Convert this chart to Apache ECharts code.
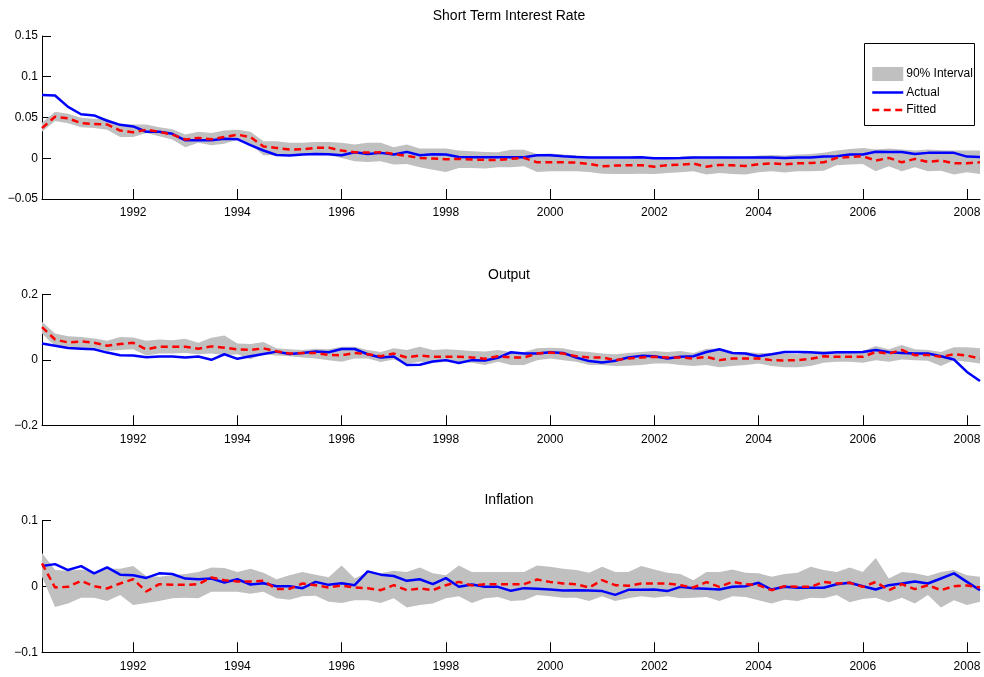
<!DOCTYPE html>
<html>
<head>
<meta charset="utf-8">
<title>Actual vs Fitted</title>
<script src="https://cdn.jsdelivr.net/npm/echarts@6/dist/echarts.min.js"></script>
<style>
  html, body { margin: 0; padding: 0; background: #fff; }
  #chart { width: 984px; height: 677px; }
</style>
</head>
<body>
<div id="chart"></div>
<script>
// Quarterly observations, 1990Q2 .. 2008Q2
const firstQuarter = 1990.25;
const nQuarters = 73;
const quarters = Array.from({ length: nQuarters }, (_, i) => (firstQuarter + i * 0.25).toFixed(2));
const yearTicks = [1992, 1994, 1996, 1998, 2000, 2002, 2004, 2006, 2008];

// Short term interest rate
const rateActual = [
  0.0777, 0.077, 0.063, 0.054, 0.0526, 0.046, 0.041, 0.039, 0.0325, 0.0325, 0.030, 0.022, 0.022, 0.022, 0.024, 0.0234, 0.016, 0.0095, 0.004, 0.0033, 0.0045, 0.0053, 0.005,
  0.0037, 0.0074, 0.0053, 0.0066, 0.0045, 0.0078, 0.0037, 0.005, 0.0045, 0.0016, 0.0012, 0.0012, 0.0012, 0.0012, 0.0012, 0.0037, 0.0037, 0.0025, 0.0016, 0.0008, 0.0008, 0.0008, 0.0008, 0.0012,
  0, 0, 0.0004, 0.001, 0.0008, 0.0008, 0.0008, 0.0008, 0.0008, 0.001, 0.0004, 0.0008, 0.001, 0.002, 0.0025, 0.0045, 0.0045, 0.008, 0.0078, 0.0078, 0.0053, 0.0066, 0.0066, 0.0066, 0.002, 0.0016
];
const rateFitted = [
  0.037, 0.051, 0.049, 0.043, 0.042, 0.0415, 0.034, 0.032, 0.035, 0.0325, 0.029, 0.023, 0.025, 0.0234, 0.026, 0.029, 0.026, 0.0144, 0.0127, 0.0107, 0.011, 0.0127, 0.013,
  0.0094, 0.0074, 0.007, 0.0074, 0.0053, 0.0029, 0.0004, -0.0004, -0.0012, -0.0008, -0.0016, -0.002, -0.002, -0.0008, 0.0004, -0.005, -0.005, -0.005, -0.0053, -0.007, -0.0099, -0.009, -0.0086, -0.0086,
  -0.0103, -0.0086, -0.0078, -0.0066, -0.0103, -0.0082, -0.0086, -0.0094, -0.0074, -0.0062, -0.0074, -0.0062, -0.0058, -0.005, 0.0004, 0.0016, 0.0025, -0.0029, 0.0004, -0.005, -0.0008, -0.0045, -0.0029, -0.0062, -0.0062, -0.005
];
const rateUpper = [
  0.0435, 0.057, 0.0546, 0.0497, 0.0485, 0.0485, 0.042, 0.0415, 0.0415, 0.038, 0.0357, 0.029, 0.0325, 0.031, 0.034, 0.035, 0.0325, 0.021, 0.021, 0.019, 0.019, 0.020, 0.020,
  0.019, 0.0168, 0.019, 0.019, 0.0136, 0.0168, 0.012, 0.012, 0.012, 0.0094, 0.0086, 0.0078, 0.0074, 0.0103, 0.0103, 0.0053, 0.0057, 0.0045, 0.0037, 0.0025, 0.0004, 0.0004, 0.0012, 0.0004,
  0.0004, 0.0012, 0.0016, 0.0025, 0.0012, 0.0025, 0.0016, 0.0016, 0.0033, 0.0041, 0.0033, 0.0045, 0.0053, 0.0066, 0.0094, 0.0115, 0.0127, 0.0107, 0.0119, 0.0107, 0.0094, 0.0107, 0.0098, 0.0094, 0.0094, 0.0094
];
const rateLower = [
  0.0325, 0.0456, 0.043, 0.038, 0.037, 0.035, 0.026, 0.026, 0.031, 0.027, 0.023, 0.0136, 0.019, 0.016, 0.0177, 0.023, 0.017, 0.0037, 0.0037, 0.0033, 0.0037, 0.0045, 0.0037,
  0.0004, -0.0037, -0.0045, -0.0037, -0.0078, -0.007, -0.011, -0.014, -0.017, -0.012, -0.012, -0.0127, -0.011, -0.011, -0.0099, -0.017, -0.016, -0.016, -0.016, -0.0168, -0.019, -0.0193, -0.0193, -0.019,
  -0.0193, -0.018, -0.0172, -0.016, -0.020, -0.018, -0.0193, -0.020, -0.0172, -0.016, -0.0176, -0.016, -0.016, -0.0152, -0.0086, -0.0078, -0.007, -0.016, -0.0099, -0.016, -0.011, -0.016, -0.0152, -0.020, -0.0172, -0.0193
];

// Output
const outputActual = [
  0.050, 0.043, 0.036, 0.034, 0.032, 0.022, 0.014, 0.013, 0.008, 0.010, 0.010, 0.007, 0.010, 0.0, 0.017, 0.003, 0.011, 0.018, 0.025, 0.018, 0.021, 0.025, 0.023,
  0.033, 0.033, 0.017, 0.007, 0.010, -0.016, -0.015, -0.005, -0.001, -0.010, -0.001, -0.002, 0.006, 0.023, 0.019, 0.019, 0.023, 0.021, 0.007, -0.004, -0.008, -0.003, 0.007, 0.012,
  0.011, 0.004, 0.009, 0.011, 0.024, 0.032, 0.021, 0.019, 0.011, 0.017, 0.024, 0.024, 0.023, 0.020, 0.023, 0.023, 0.024, 0.030, 0.023, 0.021, 0.019, 0.019, 0.011, 0.001, -0.037, -0.065
];
const outputFitted = [
  0.10, 0.062, 0.053, 0.056, 0.052, 0.043, 0.048, 0.052, 0.032, 0.040, 0.040, 0.040, 0.034, 0.041, 0.037, 0.032, 0.030, 0.035, 0.026, 0.019, 0.021, 0.021, 0.015,
  0.014, 0.021, 0.017, 0.011, 0.019, 0.007, 0.013, 0.009, 0.009, 0.009, 0.007, 0.003, 0.011, 0.007, 0.007, 0.019, 0.022, 0.019, 0.011, 0.007, 0.007, -0.001, 0.004, 0.007,
  0.009, 0.007, 0.007, 0.004, 0.009, -0.001, 0.004, 0.004, 0.004, -0.001, -0.002, -0.001, 0.003, 0.011, 0.009, 0.009, 0.009, 0.024, 0.019, 0.030, 0.014, 0.015, 0.009, 0.017, 0.013, 0.004
];
const outputUpper = [
  0.116, 0.080, 0.072, 0.070, 0.065, 0.058, 0.070, 0.068, 0.058, 0.062, 0.060, 0.064, 0.052, 0.067, 0.074, 0.050, 0.048, 0.054, 0.035, 0.032, 0.030, 0.034, 0.032,
  0.040, 0.040, 0.030, 0.024, 0.035, 0.030, 0.040, 0.030, 0.032, 0.030, 0.027, 0.025, 0.030, 0.024, 0.024, 0.035, 0.037, 0.035, 0.027, 0.024, 0.019, 0.017, 0.021, 0.024,
  0.027, 0.024, 0.027, 0.021, 0.034, 0.034, 0.024, 0.024, 0.021, 0.021, 0.019, 0.017, 0.025, 0.027, 0.025, 0.024, 0.027, 0.042, 0.032, 0.045, 0.032, 0.030, 0.024, 0.038, 0.038, 0.035
];
const outputLower = [
  0.080, 0.042, 0.037, 0.035, 0.037, 0.027, 0.030, 0.032, 0.013, 0.019, 0.019, 0.021, 0.017, 0.019, 0.014, 0.017, 0.002, 0.017, 0.013, 0.011, 0.007, 0.004, -0.001,
  -0.006, 0.004, 0.004, -0.007, 0.001, -0.013, -0.006, -0.009, -0.007, -0.009, -0.009, -0.016, -0.006, -0.016, -0.016, -0.001, 0.004, -0.001, -0.006, -0.016, -0.016, -0.019, -0.018, -0.016,
  -0.011, -0.011, -0.016, -0.019, -0.016, -0.023, -0.019, -0.016, -0.011, -0.019, -0.023, -0.023, -0.019, -0.009, -0.006, -0.006, -0.009, -0.001, -0.006, 0.001, -0.001, -0.003, -0.019, -0.001, -0.006, -0.011
];

// Inflation
const inflActual = [
  0.031, 0.034, 0.025, 0.031, 0.020, 0.029, 0.018, 0.017, 0.013, 0.020, 0.019, 0.012, 0.011, 0.012, 0.006, 0.011, 0.003, 0.005, 0.0005, 0.0005, -0.0025, 0.007, 0.0025,
  0.005, 0.002, 0.023, 0.018, 0.016, 0.0086, 0.011, 0.0035, 0.0127, -0.0005, 0.003, -0.0005, -0.0005, -0.0066, -0.0025, -0.0035, -0.0046, -0.006, -0.0056, -0.006, -0.007, -0.0127, -0.005, -0.005,
  -0.0046, -0.007, -0.0005, -0.0025, -0.0035, -0.0046, -0.0005, 0.0005, 0.0056, -0.0046, -0.0005, -0.002, -0.002, -0.002, 0.0035, 0.0056, 0.0005, -0.0046, 0.002, 0.0046, 0.0076, 0.0046, 0.0122, 0.020, 0.007, -0.0056
];
const inflFitted = [
  0.035, -0.0015, -0.0005, 0.0086, 0.0005, -0.003, 0.0046, 0.011, -0.0076, 0.0035, 0.0025, 0.0025, 0.0035, 0.0137, 0.0096, 0.0076, 0.0076, 0.0086, -0.004, -0.0035, 0.0046, 0.002, -0.0015,
  0.0015, -0.0015, -0.0025, -0.0056, 0.002, -0.0056, -0.003, -0.0056, 0.002, 0.007, 0.0015, 0.0035, 0.0035, 0.0035, 0.0035, 0.0106, 0.007, 0.0046, 0.0035, -0.0015, 0.0096, 0.002, 0.001, 0.0046,
  0.0046, 0.0046, 0.002, -0.0015, 0.0066, -0.0005, 0.007, 0.0035, 0.002, -0.0056, 0.0005, -0.0005, -0.0005, 0.007, 0.0046, 0.0056, -0.0005, 0.007, -0.0056, 0.0035, -0.004, 0.002, -0.0056, 0.0005, 0.0015, -0.0015
];
const inflUpper = [
  0.051, 0.025, 0.024, 0.026, 0.022, 0.027, 0.027, 0.031, 0.016, 0.015, 0.017, 0.019, 0.022, 0.029, 0.028, 0.022, 0.027, 0.021, 0.011, 0.017, 0.022, 0.018, 0.014,
  0.032, 0.012, 0.022, 0.020, 0.024, 0.022, 0.029, 0.020, 0.017, 0.032, 0.022, 0.022, 0.022, 0.022, 0.022, 0.032, 0.030, 0.027, 0.025, 0.021, 0.030, 0.022, 0.022, 0.031,
  0.026, 0.021, 0.019, 0.0096, 0.022, 0.022, 0.026, 0.021, 0.020, 0.015, 0.019, 0.021, 0.030, 0.025, 0.022, 0.029, 0.022, 0.0435, 0.012, 0.022, 0.020, 0.016, 0.022, 0.025, 0.017, 0.015
];
const inflLower = [
  0.015, -0.031, -0.026, -0.017, -0.017, -0.022, -0.013, -0.028, -0.025, -0.022, -0.018, -0.017, -0.018, -0.008, -0.008, -0.008, -0.011, -0.008, -0.018, -0.020, -0.015, -0.014, -0.023,
  -0.025, -0.021, -0.021, -0.025, -0.018, -0.032, -0.028, -0.026, -0.018, -0.015, -0.025, -0.018, -0.016, -0.022, -0.021, -0.013, -0.015, -0.017, -0.017, -0.022, -0.015, -0.022, -0.018, -0.015,
  -0.017, -0.015, -0.018, -0.017, -0.016, -0.022, -0.015, -0.016, -0.021, -0.026, -0.020, -0.022, -0.017, -0.018, -0.013, -0.024, -0.019, -0.017, -0.024, -0.017, -0.026, -0.013, -0.032, -0.021, -0.028, -0.023
];

const panels = [
  { title: 'Short Term Interest Rate', actual: rateActual, fitted: rateFitted, upper: rateUpper, lower: rateLower,
    yMin: -0.05, yMax: 0.15, yStep: 0.05, grid: { top: 36, height: 163 }, titleTop: 9 },
  { title: 'Output', actual: outputActual, fitted: outputFitted, upper: outputUpper, lower: outputLower,
    yMin: -0.2, yMax: 0.2, yStep: 0.2, grid: { top: 294.3, height: 131 }, titleTop: 268 },
  { title: 'Inflation', actual: inflActual, fitted: inflFitted, upper: inflUpper, lower: inflLower,
    yMin: -0.1, yMax: 0.1, yStep: 0.1, grid: { top: 520.7, height: 131.6 }, titleTop: 493 }
];

const FONT = '"Liberation Sans", Arial, Helvetica, sans-serif';
const BAND = '#c0c0c0';

// a quarter carries a year label when it is the first quarter of a listed year
const isYearTick = (idx, value) => {
  const v = parseFloat(value);
  return Number.isInteger(v) && yearTicks.indexOf(v) >= 0;
};
const fmtY = (v) => {
  const r = Math.round(v * 1000) / 1000;
  return r === 0 ? '0' : String(r).replace('-', '\u2212');
};

const grids = [], xAxes = [], yAxes = [], titles = [], series = [];
panels.forEach((p, k) => {
  grids.push({ left: 42, width: 938, top: p.grid.top, height: p.grid.height, containLabel: false });
  titles.push({ text: p.title, left: 509, top: p.titleTop, padding: 0, textAlign: 'center',
    textStyle: { fontFamily: FONT, fontSize: 14, fontWeight: 'normal', color: '#000' } });
  xAxes.push({
    type: 'category', gridIndex: k, data: quarters, boundaryGap: false,
    axisLine: { onZero: false, lineStyle: { color: '#000', width: 1 } },
    axisTick: { inside: true, length: 10, interval: isYearTick, lineStyle: { color: '#000' } },
    axisLabel: { interval: isYearTick, color: '#000', fontFamily: FONT, fontSize: 12, margin: 8,
      formatter: (v) => String(Math.round(parseFloat(v))) },
    splitLine: { show: false }
  });
  yAxes.push({
    type: 'value', gridIndex: k, min: p.yMin, max: p.yMax, interval: p.yStep,
    axisLine: { show: true, onZero: false, lineStyle: { color: '#000', width: 1 } },
    axisTick: { show: true, inside: true, length: 9, lineStyle: { color: '#000' } },
    axisLabel: { color: '#000', fontFamily: FONT, fontSize: 12, margin: 4, formatter: fmtY },
    splitLine: { show: false }
  });
  const stackId = 'band' + k;
  series.push({
    name: 'bandBase' + k, type: 'line', xAxisIndex: k, yAxisIndex: k, stack: stackId, stackStrategy: 'all',
    data: p.lower, symbol: 'none', silent: true, lineStyle: { opacity: 0 }, z: 1
  });
  series.push({
    name: '90% Interval', type: 'line', xAxisIndex: k, yAxisIndex: k, stack: stackId, stackStrategy: 'all',
    data: p.upper.map((u, i) => u - p.lower[i]), symbol: 'none', silent: true,
    color: BAND, lineStyle: { opacity: 0 }, areaStyle: { color: BAND, opacity: 1 }, z: 1
  });
  series.push({
    name: 'Actual', type: 'line', xAxisIndex: k, yAxisIndex: k, data: p.actual, symbol: 'none',
    color: '#0000ff', lineStyle: { color: '#0000ff', width: 2.5 }, z: 3
  });
  series.push({
    name: 'Fitted', type: 'line', xAxisIndex: k, yAxisIndex: k, data: p.fitted, symbol: 'none',
    color: '#ff0000', lineStyle: { color: '#ff0000', width: 2.5, type: [7, 4.5] }, z: 4
  });
});

const chart = echarts.init(document.getElementById('chart'), null, { renderer: 'canvas' });
chart.setOption({
  animation: false,
  backgroundColor: '#fff',
  title: titles,
  grid: grids,
  xAxis: xAxes,
  yAxis: yAxes,
  series: series,
  legend: {
    orient: 'vertical', left: 871, top: 67, padding: 0, itemWidth: 31, itemHeight: 14, itemGap: 5.5,
    selectedMode: false,
    textStyle: { fontFamily: FONT, fontSize: 12, color: '#000', padding: [0, 0, 0, -2] },
    data: [
      { name: '90% Interval', icon: 'rect', itemStyle: { color: BAND, opacity: 1, borderWidth: 0 } },
      { name: 'Actual', itemStyle: { opacity: 0 }, lineStyle: { color: '#0000ff', width: 2.5, opacity: 1 } },
      { name: 'Fitted', itemStyle: { opacity: 0 }, lineStyle: { color: '#ff0000', width: 2.5, type: [7, 4.5], opacity: 1 } }
    ]
  },
  graphic: [{
    type: 'rect', left: 864, top: 43, z: 0,
    shape: { width: 110, height: 82 },
    style: { fill: '#fff', stroke: '#000', lineWidth: 1 }
  }]
});
</script>
</body>
</html>
